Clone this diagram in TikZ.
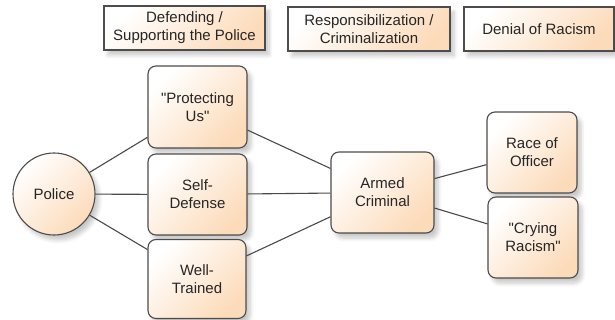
\documentclass[tikz,border=0pt]{standalone}
\usepackage{fontspec}
\setmainfont{Liberation Sans}
\usetikzlibrary{shadows.blur}
\definecolor{peach}{HTML}{FCDBBA}
\definecolor{edgegray}{HTML}{4A4A4A}
\begin{document}
\begin{tikzpicture}[x=1pt,y=-1pt,
  every node/.style={font=\fontsize{15}{18}\selectfont, text=black!85, align=center, inner sep=0pt},
  shadowed/.style={blur shadow={shadow xshift=4pt, shadow yshift=-5pt, shadow opacity=22, shadow blur steps=6, shadow blur radius=4pt}},
  filled/.style={draw=black!70, line width=1.1pt, top color=white, bottom color=peach, shading angle=45, shadowed},
  header/.style={filled, rectangle, minimum height=44pt},
  topic/.style={filled, rectangle, rounded corners=8pt},
  link/.style={draw=edgegray, line width=1.1pt}
]
\useasboundingbox (0,0) rectangle (615,320);
% headers
\node[header, minimum width=161pt] (h1) at (184.5,28) {Defending /\\Supporting the Police};
\node[header, minimum width=162pt] (h2) at (369,29) {Responsibilization /\\Criminalization};
\node[header, minimum width=150pt] (h3) at (539,29) {Denial of Racism};
% nodes
\node[filled, circle, minimum size=82pt] (police) at (54,194) {Police};
\node[topic, minimum width=99pt, minimum height=82pt] (prot) at (197.5,107) {\textquotedbl Protecting\\Us\textquotedbl};
\node[topic, minimum width=99pt, minimum height=81pt] (self) at (197.5,194.5) {Self-\\Defense};
\node[topic, minimum width=98pt, minimum height=79pt] (well) at (197,279) {Well-\\Trained};
\node[topic, minimum width=103pt, minimum height=81pt] (armed) at (382.5,192.5) {Armed\\Criminal};
\node[topic, minimum width=90pt, minimum height=81pt] (race) at (532,152.5) {Race of\\Officer};
\node[topic, minimum width=90pt, minimum height=81pt] (cry) at (533,237.5) {\textquotedbl Crying\\Racism\textquotedbl};
% connectors
\draw[link] (police) -- (prot);
\draw[link] (police) -- (self);
\draw[link] (police) -- (well);
\draw[link] (prot) -- (armed);
\draw[link] (self) -- (armed);
\draw[link] (well) -- (armed);
\draw[link] (armed) -- (race);
\draw[link] (armed) -- (cry);
\end{tikzpicture}
\end{document}
